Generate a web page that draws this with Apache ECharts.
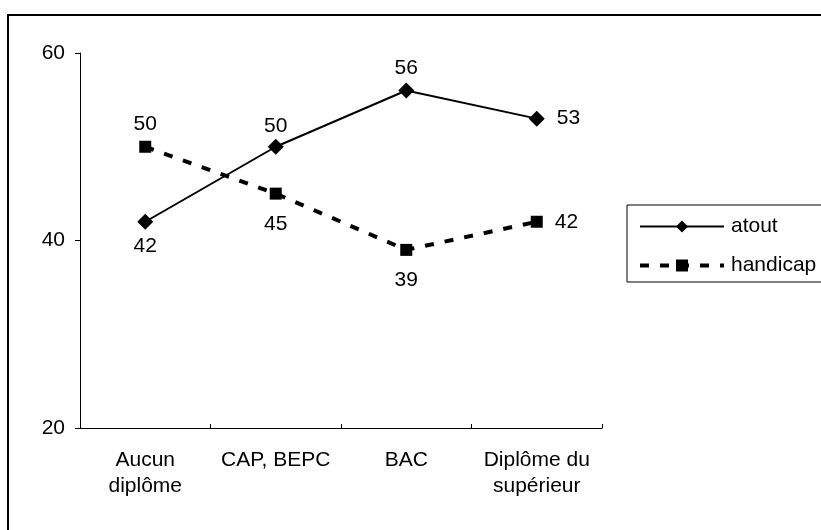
<!DOCTYPE html>
<html>
<head>
<meta charset="utf-8">
<script src="https://cdn.jsdelivr.net/npm/echarts@6/dist/echarts.min.js"></script>
<style>html,body{margin:0;padding:0;background:#fff}#c{width:821px;height:530px}</style>
</head>
<body>
<div id="c"></div>
<script>
const categories = ['Aucun\ndiplôme', 'CAP, BEPC', 'BAC', 'Diplôme du\nsupérieur'];
const atout = [42, 50, 56, 53];
const handicap = [50, 45, 39, 42];
const atoutLabelPos = ['bottom', 'top', 'top', 'right'];
const handicapLabelPos = ['top', 'bottom', 'bottom', 'right'];
const yTicks = [20, 40, 60];

const FONT = '"Liberation Sans", Arial, sans-serif';
const FS = 21;
const chart = echarts.init(document.getElementById('c'), null, {renderer: 'canvas'});

function withLabels(vals, pos, dist) {
  return vals.map((v, i) => ({
    value: v,
    label: {position: pos[i], distance: dist[i]}
  }));
}

chart.setOption({
  animation: false,
  backgroundColor: '#fff',
  textStyle: {fontFamily: FONT, color: '#000'},
  grid: {left: 80, right: 219, top: 53, bottom: 102, containLabel: false},
  xAxis: {
    type: 'category',
    data: categories,
    boundaryGap: true,
    axisLine: {show: true, lineStyle: {color: '#000', width: 1}},
    axisTick: {show: true, inside: true, length: 4, alignWithLabel: false, lineStyle: {color: '#000'}},
    axisLabel: {color: '#000', fontSize: FS, fontFamily: FONT, lineHeight: 26, margin: 19, interval: 0}
  },
  yAxis: {
    type: 'value',
    min: yTicks[0], max: yTicks[yTicks.length - 1], interval: 20,
    axisLine: {show: true, lineStyle: {color: '#000', width: 1}},
    axisTick: {show: true, inside: false, length: 5, lineStyle: {color: '#000'}},
    splitLine: {show: false},
    axisLabel: {color: '#000', fontSize: FS, fontFamily: FONT, margin: 15}
  },
  legend: {
    orient: 'vertical',
    left: 633, top: 211,
    itemWidth: 84, itemHeight: 15,
    itemGap: 18,
    data: [
      {name: 'atout', lineStyle: {width: 2}},
      {name: 'handicap', lineStyle: {width: 4}}
    ],
    textStyle: {color: '#000', fontSize: FS, fontFamily: FONT, padding: [0, 0, 0, 2]}
  },
  graphic: [
    {type: 'line', shape: {x1: 8, y1: 15, x2: 821, y2: 15}, style: {stroke: '#000', lineWidth: 2}},
    {type: 'line', shape: {x1: 8, y1: 14, x2: 8, y2: 530}, style: {stroke: '#000', lineWidth: 2}},
    {type: 'rect', shape: {x: 627, y: 205, width: 210, height: 77}, style: {fill: 'none', stroke: '#000', lineWidth: 1}}
  ],
  series: [
    {
      name: 'atout', type: 'line',
      data: withLabels(atout, atoutLabelPos, [6, 2, 4, 12]),
      symbol: 'diamond', symbolSize: 16,
      lineStyle: {color: '#000', width: 2, type: 'solid'},
      itemStyle: {color: '#000'},
      label: {show: true, color: '#000', fontSize: FS, fontFamily: FONT}
    },
    {
      name: 'handicap', type: 'line',
      data: withLabels(handicap, handicapLabelPos, [6, 14, 14, 12]),
      symbol: 'rect', symbolSize: 12,
      lineStyle: {color: '#000', width: 4, type: [9, 11]},
      itemStyle: {color: '#000'},
      label: {show: true, color: '#000', fontSize: FS, fontFamily: FONT}
    }
  ]
});
</script>
</body>
</html>
